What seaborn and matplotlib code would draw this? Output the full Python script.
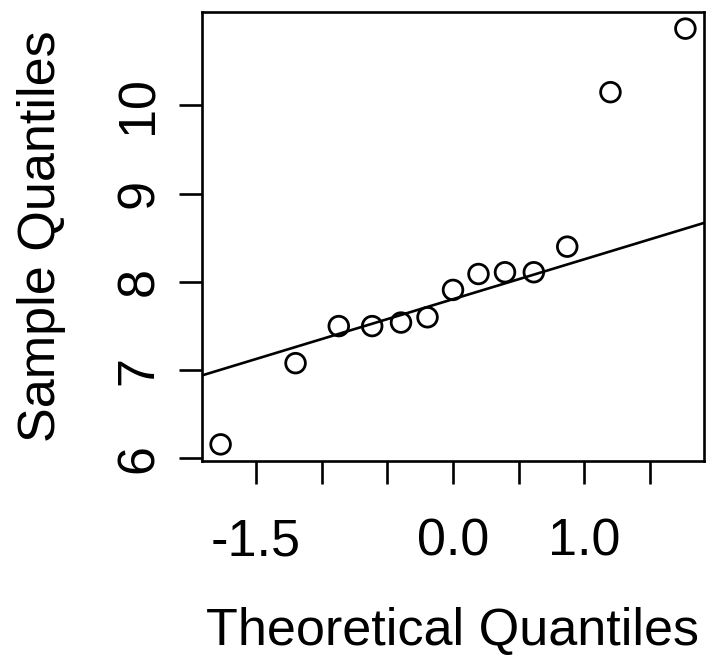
import numpy as np
import pandas as pd
import seaborn as sns
import matplotlib
matplotlib.use("Agg")
import matplotlib.pyplot as plt
from statistics import NormalDist

# Sample values (sorted)
sample = [6.16, 7.08, 7.50, 7.50, 7.54, 7.60, 7.91, 8.09, 8.11, 8.11, 8.40, 10.15, 10.87]
x_ticks = [-1.5, -1.0, -0.5, 0.0, 0.5, 1.0, 1.5]
x_tick_labels = ["-1.5", "", "", "0.0", "", "1.0", ""]
y_ticks = [6, 7, 8, 9, 10]
y_tick_labels = ["6", "7", "8", "9", "10"]

n = len(sample)
a = 3 / 8 if n <= 10 else 0.5
nd = NormalDist()
theo = [nd.inv_cdf((i + 1 - a) / (n + 1 - 2 * a)) for i in range(n)]
df = pd.DataFrame({"theo": theo, "sample": sorted(sample)})

# qqline through the quartiles
q1, q3 = np.quantile(df["sample"], [0.25, 0.75])
t1, t3 = nd.inv_cdf(0.25), nd.inv_cdf(0.75)
slope = (q3 - q1) / (t3 - t1)
intercept = q1 - slope * t1

sns.set_style("white")
plt.rcParams["font.family"] = ["Liberation Sans", "DejaVu Sans"]

fig = plt.figure(figsize=(7.08, 6.57), dpi=100)
ax = fig.add_axes([202 / 708, 1 - 461 / 657, 502 / 708, 449 / 657])

sns.scatterplot(data=df, x="theo", y="sample", ax=ax, marker="o", s=200,
                facecolor="none", edgecolor="black", linewidth=2.0, zorder=3)
ax.axline((0, intercept), slope=slope, color="black", lw=1.9, zorder=2)

xr = max(theo) - min(theo)
yr = max(sample) - min(sample)
ax.set_xlim(min(theo) - 0.04 * xr, max(theo) + 0.04 * xr)
ax.set_ylim(min(sample) - 0.04 * yr, max(sample) + 0.04 * yr)

ax.set_xticks(x_ticks)
ax.set_xticklabels(x_tick_labels)
ax.set_yticks(y_ticks)
ax.set_yticklabels(y_tick_labels, rotation=90, va="center")

for sp in ax.spines.values():
    sp.set_visible(True)
    sp.set_color("black")
    sp.set_linewidth(1.9)

ax.tick_params(axis="both", which="major", direction="out", length=16.5, width=1.9,
               color="black", labelsize=37.5, labelcolor="black", bottom=True, left=True)
ax.tick_params(axis="x", pad=24)
ax.tick_params(axis="y", pad=11)

ax.set_xlabel("Theoretical Quantiles", fontsize=37.5, labelpad=29, color="black")
ax.set_ylabel("Sample Quantiles", fontsize=37.5, labelpad=35, color="black")

fig.savefig("out.png", dpi=100, facecolor="white")
